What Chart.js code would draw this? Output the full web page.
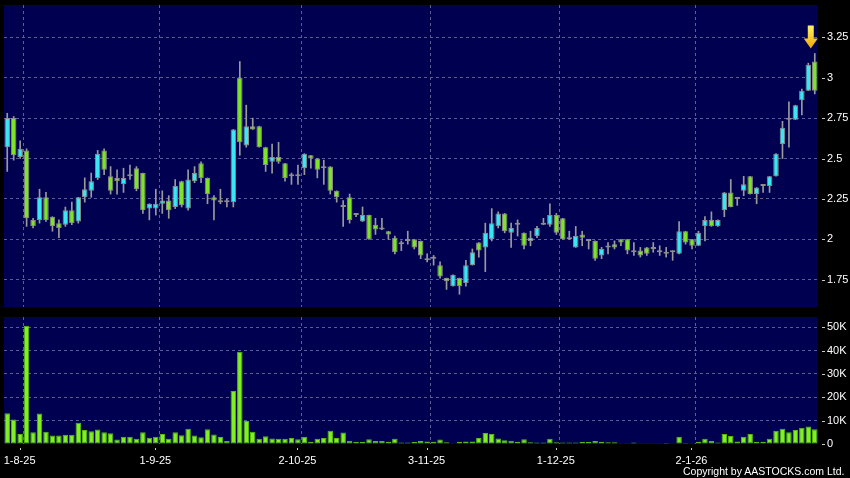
<!DOCTYPE html>
<html>
<head>
<meta charset="utf-8">
<script src="https://cdn.jsdelivr.net/npm/chart.js@4.4.1/dist/chart.umd.min.js"></script>
<style>
  html, body { margin: 0; padding: 0; background: #000; }
  #wrap { position: relative; width: 850px; height: 478px; overflow: hidden; background: #000; }
  #priceBox { position: absolute; left: 0; top: 0; width: 850px; height: 312px; }
  #volBox { position: absolute; left: 0; top: 312px; width: 850px; height: 166px; }
  #copy { position: absolute; left: 683px; top: 466px; font: 10.5px Arial, "Liberation Sans", sans-serif; color: #fff; line-height: 1; white-space: nowrap; }
</style>
</head>
<body>
<div id="wrap">
  <div id="priceBox"><canvas id="priceChart"></canvas></div>
  <div id="volBox"><canvas id="volChart"></canvas></div>
  <div id="copy">Copyright by AASTOCKS.com Ltd.</div>
</div>
<script>
// trading days, month-year -> days
const months = [
  ['7-25', [29, 30, 31]],
  ['8-25', [1, 4, 5, 6, 7, 8, 11, 12, 13, 14, 15, 18, 19, 20, 21, 22, 25, 26, 27, 28, 29]],
  ['9-25', [1, 2, 3, 4, 5, 8, 9, 10, 11, 12, 15, 16, 17, 18, 19, 22, 23, 24, 25, 26, 29, 30]],
  ['10-25', [2, 3, 6, 8, 9, 10, 13, 14, 15, 16, 17, 20, 21, 22, 23, 24, 27, 28, 30, 31]],
  ['11-25', [3, 4, 5, 6, 7, 10, 11, 12, 13, 14, 17, 18, 19, 20, 21, 24, 25, 26, 27, 28]],
  ['12-25', [1, 2, 3, 4, 5, 8, 9, 10, 11, 12, 15, 16, 17, 18, 19, 22, 23, 24, 29, 30, 31]],
  ['1-26', [2, 5, 6, 7, 8, 9, 12, 13, 14, 15, 16, 19, 20, 21, 22, 23, 26, 27, 28]]
];
const tickDates = ['1-8-25', '1-9-25', '2-10-25', '3-11-25', '1-12-25', '2-1-26'];
const priceTicks = [1.75, 2, 2.25, 2.5, 2.75, 3, 3.25];
const volTicks = [0, 10, 20, 30, 40, 50];

const open = [
  2.57, 2.75, 2.51, 2.55, 2.12, 2.12, 2.26, 2.14, 2.10, 2.09,
  2.18, 2.11, 2.26, 2.30, 2.38, 2.55, 2.39, 2.38, 2.34, 2.39,
  2.44, 2.41, 2.19, 2.19, 2.22, 2.24, 2.20, 2.36, 2.19, 2.36,
  2.47, 2.38, 2.26, 2.23, 2.24, 2.23, 3.00, 2.58, 2.70, 2.70,
  2.57, 2.48, 2.51, 2.47, 2.39, 2.39, 2.44, 2.52, 2.50, 2.44,
  2.45, 2.30, 2.20, 2.26, 2.16, 2.11, 2.15, 2.09, 2.06, 2.05,
  2.01, 1.97, 1.99, 2.00, 1.99, 1.87, 1.88, 1.84, 1.76, 1.71,
  1.76, 1.73, 1.84, 1.98, 1.95, 2.00, 2.08, 2.16, 2.04, 2.09,
  2.04, 1.99, 2.02, 2.10, 2.09, 2.15, 2.13, 2.00, 1.95, 2.03,
  1.99, 1.99, 1.90, 1.95, 1.97, 2.00, 2.00, 1.92, 1.93, 1.95,
  1.94, 1.93, 1.91, 1.92, 1.91, 2.05, 2.00, 1.96, 2.08, 2.12,
  2.08, 2.18, 2.29, 2.26, 2.30, 2.39, 2.28, 2.33, 2.33, 2.39,
  2.59, 2.74, 2.74, 2.86, 2.92, 3.10
];
const high = [
  2.78, 2.76, 2.61, 2.56, 2.13, 2.31, 2.29, 2.14, 2.12, 2.20,
  2.23, 2.26, 2.38, 2.41, 2.55, 2.56, 2.45, 2.43, 2.44, 2.46,
  2.45, 2.41, 2.22, 2.31, 2.30, 2.27, 2.37, 2.36, 2.43, 2.45,
  2.48, 2.38, 2.27, 2.31, 2.25, 2.68, 3.10, 2.83, 2.75, 2.70,
  2.57, 2.59, 2.60, 2.47, 2.41, 2.46, 2.53, 2.52, 2.50, 2.49,
  2.45, 2.30, 2.24, 2.28, 2.16, 2.20, 2.15, 2.13, 2.13, 2.05,
  2.02, 1.99, 2.05, 2.00, 1.99, 1.91, 1.90, 1.86, 1.76, 1.78,
  1.76, 1.87, 1.94, 1.98, 2.10, 2.19, 2.17, 2.16, 2.10, 2.12,
  2.04, 2.05, 2.08, 2.13, 2.22, 2.16, 2.13, 2.05, 2.08, 2.05,
  2.00, 1.99, 1.95, 1.98, 1.99, 2.00, 2.00, 1.98, 1.95, 1.95,
  1.98, 1.96, 1.95, 1.93, 2.11, 2.05, 2.00, 2.05, 2.14, 2.17,
  2.12, 2.29, 2.37, 2.26, 2.39, 2.39, 2.32, 2.34, 2.39, 2.53,
  2.73, 2.85, 2.83, 2.93, 3.09, 3.15
];
const low = [
  2.42, 2.49, 2.50, 2.08, 2.07, 2.10, 2.11, 2.05, 2.01, 2.08,
  2.09, 2.10, 2.23, 2.26, 2.37, 2.40, 2.28, 2.28, 2.29, 2.37,
  2.30, 2.16, 2.12, 2.15, 2.16, 2.13, 2.19, 2.20, 2.18, 2.35,
  2.35, 2.22, 2.12, 2.22, 2.20, 2.20, 2.52, 2.57, 2.68, 2.57,
  2.42, 2.41, 2.47, 2.36, 2.34, 2.34, 2.40, 2.44, 2.38, 2.34,
  2.28, 2.23, 2.08, 2.10, 2.14, 2.11, 2.00, 2.03, 2.06, 2.00,
  1.91, 1.93, 1.97, 1.94, 1.88, 1.86, 1.84, 1.76, 1.69, 1.71,
  1.66, 1.71, 1.84, 1.89, 1.80, 1.99, 2.07, 2.04, 1.95, 2.02,
  1.94, 1.96, 2.01, 2.09, 2.08, 2.03, 2.00, 2.00, 1.95, 1.96,
  1.94, 1.87, 1.88, 1.91, 1.94, 1.96, 1.91, 1.90, 1.89, 1.90,
  1.92, 1.90, 1.89, 1.87, 1.91, 1.97, 1.94, 1.96, 1.99, 2.08,
  2.08, 2.14, 2.20, 2.21, 2.27, 2.28, 2.22, 2.29, 2.29, 2.39,
  2.50, 2.57, 2.74, 2.77, 2.92, 2.90
];
const close = [
  2.75, 2.52, 2.56, 2.13, 2.08, 2.26, 2.12, 2.08, 2.07, 2.18,
  2.10, 2.26, 2.31, 2.36, 2.53, 2.43, 2.30, 2.36, 2.38, 2.39,
  2.31, 2.18, 2.22, 2.22, 2.24, 2.18, 2.33, 2.21, 2.37, 2.41,
  2.38, 2.28, 2.24, 2.24, 2.23, 2.68, 2.60, 2.70, 2.68, 2.57,
  2.46, 2.51, 2.48, 2.38, 2.39, 2.39, 2.53, 2.50, 2.43, 2.44,
  2.30, 2.26, 2.20, 2.12, 2.15, 2.15, 2.00, 2.06, 2.06, 2.03,
  1.92, 1.97, 2.00, 1.95, 1.90, 1.87, 1.88, 1.77, 1.74, 1.78,
  1.71, 1.84, 1.92, 1.93, 2.04, 2.10, 2.16, 2.05, 2.07, 2.09,
  1.96, 2.01, 2.07, 2.09, 2.15, 2.04, 2.00, 2.00, 2.02, 2.01,
  1.99, 1.88, 1.94, 1.95, 1.95, 1.98, 1.93, 1.93, 1.90, 1.91,
  1.94, 1.92, 1.92, 1.92, 2.05, 1.98, 1.96, 2.04, 2.12, 2.08,
  2.12, 2.29, 2.20, 2.25, 2.34, 2.28, 2.32, 2.33, 2.39, 2.53,
  2.69, 2.74, 2.83, 2.92, 3.08, 2.92
];
// volume in thousands
const volume = [
  13.2, 10.5, 4.3, 50.7, 5.0, 13.1, 5.2, 3.6, 3.6, 4.0,
  4.0, 9.1, 6.0, 5.5, 6.2, 5.0, 4.6, 1.9, 3.1, 3.1,
  2.2, 5.0, 2.7, 3.1, 4.3, 2.3, 5.0, 3.7, 6.5, 3.6,
  2.9, 6.3, 4.1, 3.0, 1.3, 22.7, 39.5, 9.9, 5.2, 2.2,
  3.3, 2.4, 2.2, 2.2, 2.6, 2.0, 3.1, 1.0, 2.3, 2.6,
  5.7, 2.6, 4.9, 1.4, 1.0, 1.0, 2.0, 1.3, 1.3, 1.0,
  2.3, 0.6, 0.6, 0.9, 1.3, 1.1, 1.0, 1.9, 0.7, 0.3,
  1.0, 1.1, 1.1, 2.6, 4.7, 4.3, 2.4, 1.6, 1.4, 1.0,
  2.0, 0.7, 0.6, 0.6, 2.2, 0.7, 0.6, 0.6, 0.6, 1.0,
  0.9, 1.3, 1.0, 0.7, 0.7, 0.1, 0.1, 0.6, 0.1, 0.1,
  0.1, 0.1, 0.4, 0.1, 3.1, 0.4, 0.1, 1.0, 2.2, 1.3,
  0.6, 4.3, 3.4, 1.1, 3.1, 4.3, 1.0, 1.0, 2.3, 5.7,
  6.5, 5.0, 6.0, 7.0, 7.5, 6.3
];

const dates = [];
months.forEach(([my, days]) => days.forEach(d => dates.push(d + '-' + my)));

const UP = '#3ae6f2', DOWN = '#7fe428', FLAT = '#a8a8a8';
const GRID = '#5d5d96';
const FONT = { family: 'Arial, "Liberation Sans", sans-serif', size: 11 };

const bodyColors = open.map((o, i) => close[i] > o ? UP : (close[i] < o ? DOWN : FLAT));

const plotBg = {
  id: 'plotBg',
  beforeDraw(chart) {
    const { ctx, chartArea: a } = chart;
    ctx.save();
    ctx.fillStyle = '#000050';
    ctx.fillRect(a.left, a.top, a.right - a.left, a.bottom - a.top);
    ctx.restore();
  }
};

// little dash marks next to the axis labels (kept apart from the plot edge)
const axisDashes = {
  id: 'axisDashes',
  afterDraw(chart) {
    const { ctx, chartArea: a } = chart;
    ctx.save();
    ctx.strokeStyle = '#c8c8c8';
    ctx.lineWidth = 1;
    ctx.beginPath();
    chart.scales.y.ticks.forEach(t => {
      const y = Math.round(chart.scales.y.getPixelForValue(t.value)) + 0.5;
      ctx.moveTo(a.right + 4, y);
      ctx.lineTo(a.right + 7, y);
    });
    const xs = chart.scales.x;
    if (xs.options.ticks.display) {
      dates.forEach((d, i) => {
        if (!tickDates.includes(d)) return;
        const x = Math.round(xs.getPixelForValue(i) - 7) + 0.5;
        ctx.moveTo(x, a.bottom + 4);
        ctx.lineTo(x, a.bottom + 6);
      });
    }
    ctx.stroke();
    ctx.restore();
  }
};

// yellow marker above the latest candle
const lastArrow = {
  id: 'lastArrow',
  afterDatasetsDraw(chart) {
    const last = close.length - 1;
    const x = chart.scales.x.getPixelForValue(last) - 4;
    const tip = chart.scales.y.getPixelForValue(high[last]) - 5;
    const ctx = chart.ctx;
    const g = ctx.createLinearGradient(0, tip - 23, 0, tip);
    g.addColorStop(0, '#fff36a');
    g.addColorStop(1, '#f0a800');
    ctx.save();
    ctx.fillStyle = g;
    ctx.beginPath();
    ctx.moveTo(x - 3, tip - 23);
    ctx.lineTo(x + 3, tip - 23);
    ctx.lineTo(x + 3, tip - 10);
    ctx.lineTo(x + 7, tip - 10);
    ctx.lineTo(x, tip);
    ctx.lineTo(x - 7, tip - 10);
    ctx.lineTo(x - 3, tip - 10);
    ctx.closePath();
    ctx.fill();
    ctx.restore();
  }
};

function xAxis(showLabels) {
  return {
    type: 'category',
    offset: true,
    grid: {
      offset: true,
      color: ctx => tickDates.includes(dates[ctx.index]) ? GRID : 'rgba(0,0,0,0)',
      drawTicks: false
    },
    border: { display: false, dash: [3, 3] },
    ticks: {
      display: showLabels,
      autoSkip: false,
      maxRotation: 0,
      minRotation: 0,
      labelOffset: -7,
      padding: 10,
      color: '#ffffff',
      font: FONT,
      callback: (v, i) => tickDates.includes(dates[i]) ? dates[i] : ''
    },
    afterFit: s => {
      s.height = showLabels ? 34 : 0;
      s.paddingLeft = 0;
      s.paddingRight = 0;
    }
  };
}

function yAxis(min, max, tickVals, fmt) {
  return {
    position: 'right',
    min: min,
    max: max,
    afterBuildTicks: s => { s.ticks = tickVals.map(v => ({ value: v })); },
    afterFit: s => {
      s.width = 32;
      s.paddingTop = 0;
      s.paddingBottom = 0;
    },
    grid: {
      color: ctx => (ctx.tick && ctx.tick.value === 0) ? 'rgba(0,0,0,0)' : GRID,
      drawTicks: false
    },
    border: { display: false, dash: [3, 3] },
    ticks: { color: '#ffffff', font: FONT, padding: 9, callback: fmt }
  };
}

const common = {
  responsive: true,
  maintainAspectRatio: false,
  animation: false,
  events: [],
  plugins: { legend: { display: false }, tooltip: { enabled: false } }
};

new Chart(document.getElementById('priceChart'), {
  type: 'bar',
  data: {
    labels: dates,
    datasets: [
      {
        label: 'Body',
        data: open.map((o, i) => [o, close[i]]),
        backgroundColor: bodyColors,
        borderColor: '#8c8c8c',
        borderWidth: 1,
        borderSkipped: false,
        minBarLength: 2,
        grouped: false,
        barPercentage: 0.85,
        categoryPercentage: 1,
        order: 0
      },
      {
        label: 'Wick',
        data: low.map((l, i) => [l, high[i]]),
        backgroundColor: '#9a9a9a',
        borderWidth: 0,
        barThickness: 1,
        grouped: false,
        order: 1
      }
    ]
  },
  options: {
    ...common,
    layout: { padding: { left: 4, right: 0, top: 5, bottom: 5 } },
    scales: {
      x: xAxis(false),
      y: yAxis(1.581, 3.45, priceTicks, v => String(v))
    }
  },
  plugins: [plotBg, lastArrow, axisDashes]
});

new Chart(document.getElementById('volChart'), {
  type: 'bar',
  data: {
    labels: dates,
    datasets: [{
      label: 'Volume',
      data: volume,
      backgroundColor: '#80f020',
      borderColor: '#56b814',
      borderWidth: 1,
      borderSkipped: false,
      barPercentage: 0.85,
      categoryPercentage: 1
    }]
  },
  options: {
    ...common,
    layout: { padding: { left: 4, right: 0, top: 5, bottom: 0 } },
    scales: {
      x: xAxis(true),
      y: yAxis(0, 54.4, volTicks, v => v === 0 ? '0' : v + 'K')
    }
  },
  plugins: [plotBg, axisDashes]
});
</script>
</body>
</html>
